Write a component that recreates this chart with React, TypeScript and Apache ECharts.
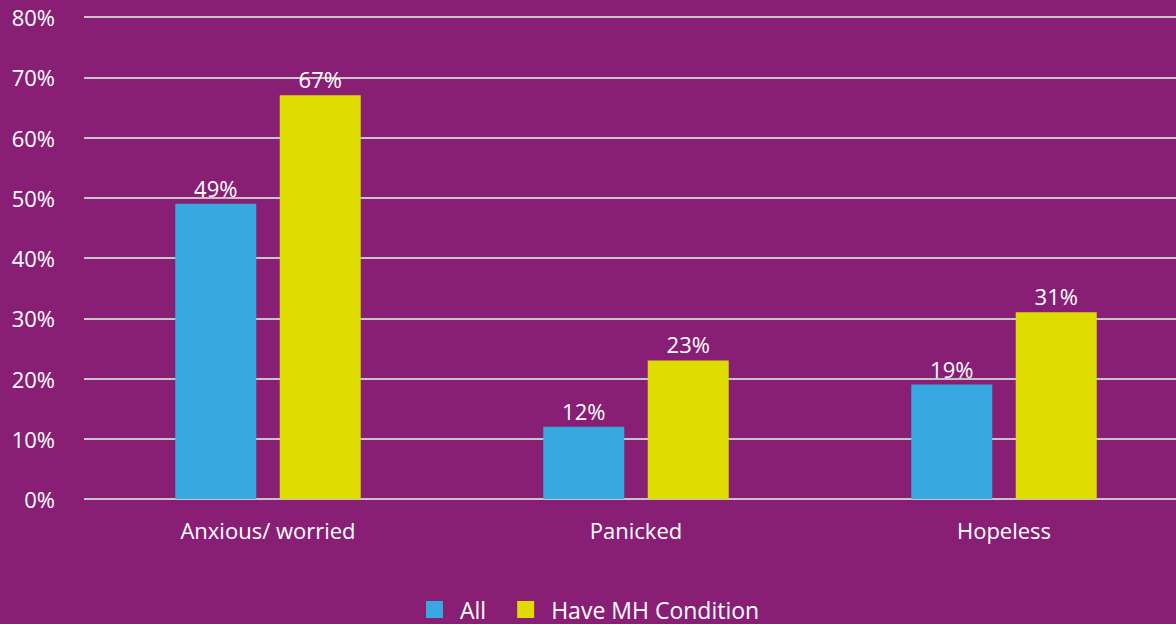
import React, { useEffect, useRef } from "react";
import * as echarts from "echarts";

const categories = ["Anxious/ worried", "Panicked", "Hopeless"];
const allValues = [49, 12, 19];
const mhValues = [67, 23, 31];
const yTicks = [0, 10, 20, 30, 40, 50, 60, 70, 80];

const FONT = "'Open Sans', 'Noto Sans', sans-serif";

export default function App() {
  const ref = useRef<HTMLDivElement>(null);
  useEffect(() => {
    if (!ref.current) return;
    const chart = echarts.init(ref.current, undefined, { renderer: "svg" });
    const label = {
      show: true,
      position: "top" as const,
      color: "#ffffff",
      fontSize: 22,
      fontFamily: FONT,
      distance: 5,
      formatter: (p: any) => p.value + "%",
    };
    chart.setOption({
      animation: false,
      backgroundColor: "#891F75",
      grid: { left: 84, right: 0, top: 17, bottom: 125, containLabel: false },
      legend: {
        top: 593,
        left: 421,
        itemWidth: 17,
        itemHeight: 17,
        itemGap: 31,
        icon: "rect",
        textStyle: { color: "#ffffff", fontSize: 23, fontFamily: FONT, padding: [0, 0, 0, 12] },
        data: ["All", "Have MH Condition"],
      },
      xAxis: {
        type: "category",
        data: categories,
        axisLine: { show: false },
        axisTick: { show: false },
        axisLabel: { color: "#ffffff", fontSize: 22, fontFamily: FONT, margin: 20 },
      },
      yAxis: {
        type: "value",
        min: yTicks[0],
        max: yTicks[yTicks.length - 1],
        interval: 10,
        axisLine: { show: false },
        axisTick: { show: false },
        axisLabel: {
          color: "#ffffff",
          fontSize: 22,
          fontFamily: FONT,
          margin: 29,
          formatter: (v: number) => v + "%",
        },
        splitLine: { lineStyle: { color: "#C8C3C8", width: 2 } },
      },
      series: [
        {
          name: "All",
          type: "bar",
          data: allValues,
          barWidth: 81,
          barGap: "29%",
          itemStyle: { color: "#38A9E0" },
          label,
        },
        {
          name: "Have MH Condition",
          type: "bar",
          data: mhValues,
          barWidth: 81,
          barGap: "29%",
          itemStyle: { color: "#DEDC00" },
          label,
        },
      ],
    });
    return () => chart.dispose();
  }, []);
  return (
    <div style={{ width: 1176, height: 624, position: "absolute", left: 0, top: 0, overflow: "hidden" }}>
      <div ref={ref} style={{ width: 1188, height: 624 }} />
    </div>
  );
}
